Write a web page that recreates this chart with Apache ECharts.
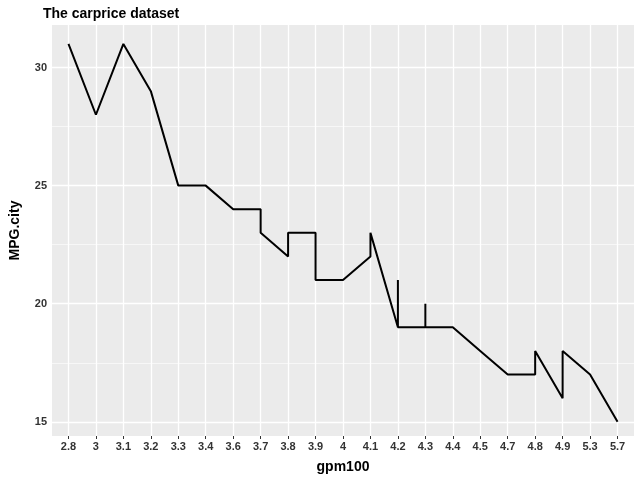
<!DOCTYPE html>
<html>
<head>
<meta charset="utf-8">
<script src="https://cdn.jsdelivr.net/npm/echarts@6/dist/echarts.min.js"></script>
<style>html,body{margin:0;padding:0;background:#fff}#main{width:640px;height:480px}</style>
</head>
<body>
<div id="main"></div>
<script>
var categories = ['2.8','3','3.1','3.2','3.3','3.4','3.6','3.7','3.8','3.9','4','4.1','4.2','4.3','4.4','4.5','4.7','4.8','4.9','5.3','5.7'];
var gpm = ['2.8','3','3.1','3.2','3.3','3.4','3.6','3.7','3.7','3.8','3.8','3.9','3.9','4','4.1','4.1','4.2','4.2','4.2','4.3','4.3','4.3','4.4','4.5','4.7','4.8','4.8','4.9','4.9','5.3','5.7'];
var mpgCity = [31,28,31,29,25,25,24,24,23,22,23,23,21,21,22,23,19,21,19,19,20,19,19,18,17,17,18,16,18,17,15];
var yMajor = [15,20,25,30];
var yMinor = [17.5,22.5,27.5];

var chartDom = document.getElementById('main');
var myChart = echarts.init(chartDom);

var points = gpm.map(function (g, i) { return [categories.indexOf(g), mpgCity[i]]; });
var catIdx = categories.map(function (c, i) { return i; });

var gridLines = [];
yMinor.forEach(function (v) { gridLines.push({ yAxis: v, lineStyle: { width: 0.6 } }); });
yMajor.forEach(function (v) { gridLines.push({ yAxis: v, lineStyle: { width: 1.3 } }); });
catIdx.forEach(function (v) { gridLines.push({ xAxis: v, lineStyle: { width: 1.3 } }); });

var labelStyle = { color: '#333', fontSize: 11, fontWeight: 'bold', fontFamily: 'Liberation Sans' };

var option = {
  animation: false,
  title: {
    text: 'The carprice dataset',
    left: 38,
    top: 2,
    textStyle: { fontSize: 14, fontWeight: 'bold', color: '#000', fontFamily: 'Liberation Sans' }
  },
  grid: { left: 41, right: 6, top: 25, bottom: 44, show: true, backgroundColor: '#EBEBEB', borderWidth: 0 },
  xAxis: {
    type: 'value',
    min: -0.6,
    max: 20.6,
    name: 'gpm100',
    nameLocation: 'middle',
    nameGap: 24,
    nameTextStyle: { fontSize: 14, fontWeight: 'bold', color: '#000', fontFamily: 'Liberation Sans' },
    axisLine: { show: false },
    splitLine: { show: false },
    axisTick: { show: true, customValues: catIdx, length: 3, lineStyle: { color: '#333' } },
    axisLabel: Object.assign({ customValues: catIdx, margin: 5, formatter: function (v) { return categories[Math.round(v)]; } }, labelStyle)
  },
  yAxis: {
    type: 'value',
    min: 14.4,
    max: 31.8,
    name: 'MPG.city',
    nameLocation: 'middle',
    nameGap: 30,
    nameTextStyle: { fontSize: 14, fontWeight: 'bold', color: '#000', fontFamily: 'Liberation Sans' },
    axisLine: { show: false },
    splitLine: { show: false },
    axisTick: { show: true, customValues: yMajor, length: 3, lineStyle: { color: '#333' } },
    axisLabel: Object.assign({ customValues: yMajor, margin: 5 }, labelStyle)
  },
  series: [
    {
      type: 'line',
      z: 1,
      silent: true,
      data: points,
      showSymbol: false,
      lineStyle: { width: 0, opacity: 0 },
      markLine: {
        silent: true,
        symbol: 'none',
        animation: false,
        label: { show: false },
        lineStyle: { color: '#fff', type: 'solid' },
        data: gridLines
      }
    },
    {
      type: 'line',
      z: 5,
      data: points,
      showSymbol: false,
      lineStyle: { color: '#000', width: 2 }
    }
  ]
};

option && myChart.setOption(option);
</script>
</body>
</html>
